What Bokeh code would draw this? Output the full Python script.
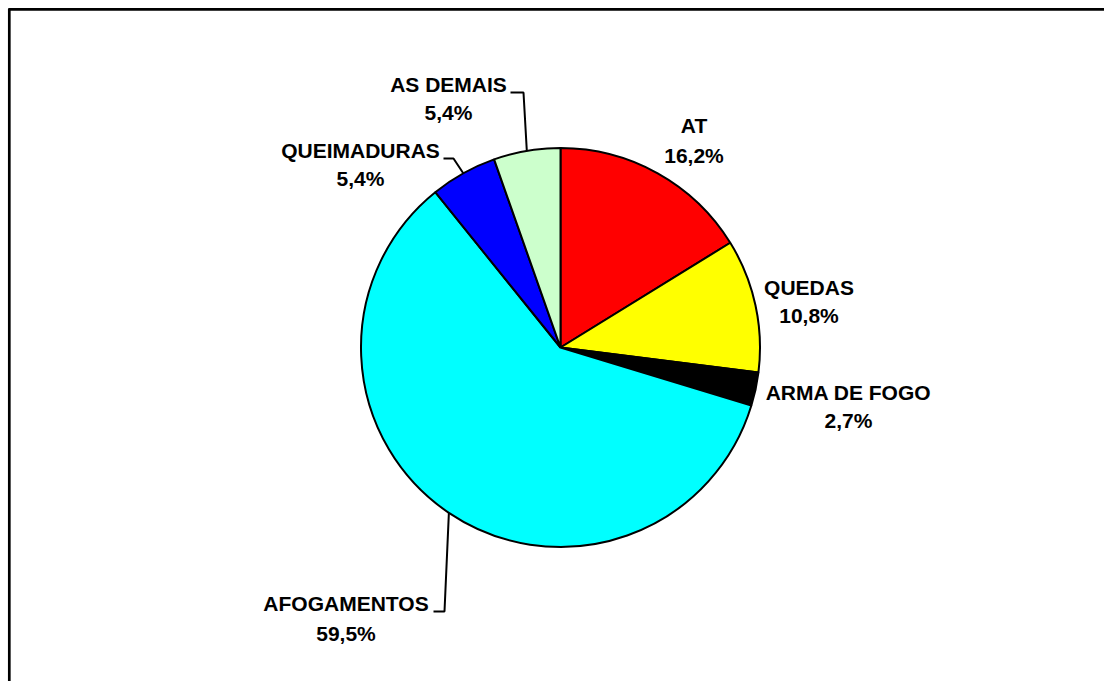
import math
from bokeh.plotting import figure
from bokeh.models import Range1d, ColumnDataSource
from bokeh.core.properties import value
from bokeh.embed import file_html
from bokeh.resources import INLINE

# ---- data ----
categories = ["AT", "QUEDAS", "ARMA DE FOGO", "AFOGAMENTOS", "QUEIMADURAS", "AS DEMAIS"]
percentages = [16.2, 10.8, 2.7, 59.5, 5.4, 5.4]
pct_labels = ["16,2%", "10,8%", "2,7%", "59,5%", "5,4%", "5,4%"]
colors = ["#FF0000", "#FFFF00", "#000000", "#00FFFF", "#0000FF", "#CCFFCC"]

# ---- layout (screen pixels of the page) ----
W, H = 1104, 681
OFF = 0  # bokeh's page template has no body margin
def X(px):
    return px - OFF
def Y(py):
    return H - (py - OFF)

CX, CY, R = 560, 347, 199.5
FONT = value("Liberation Sans")
FS = "21px"

# label anchors: (center x, baseline of name, baseline of percent)
label_pos = {
    "AT": (693.5, 125, 155),
    "QUEDAS": (808.5, 287, 315),
    "ARMA DE FOGO": (848, 392, 420),
    "AFOGAMENTOS": (345.5, 603, 633),
    "QUEIMADURAS": (360, 150, 178),
    "AS DEMAIS": (448, 84, 112),
}
# leader lines: elbow and end points
leaders = {
    "AS DEMAIS": [(523, 92), (510, 92)],
    "QUEIMADURAS": [(453, 158), (443, 158)],
    "AFOGAMENTOS": [(444, 611), (433, 611)],
}

p = figure(width=W, height=H, output_backend="svg", toolbar_location=None,
           x_range=Range1d(0, W), y_range=Range1d(0, H),
           x_axis_type=None, y_axis_type=None, min_border=0)
p.grid.visible = False
p.outline_line_color = None
p.background_fill_color = "white"
p.border_fill_color = "white"

# pie wedges
total = sum(percentages)
starts, ends, mids = [], [], []
acc = 0.0
for v in percentages:
    a = acc / total
    b = (acc + v) / total
    starts.append(math.pi / 2 - 2 * math.pi * b)
    ends.append(math.pi / 2 - 2 * math.pi * a)
    mids.append((a + b) / 2)
    acc += v

src = ColumnDataSource(dict(cat=categories, start=starts, end=ends, color=colors))
p.wedge(x=X(CX), y=Y(CY), radius=R, start_angle="start", end_angle="end",
        direction="anticlock", fill_color="color", line_color="black",
        line_width=2, source=src)

# leader lines
for i, cat in enumerate(categories):
    if cat in leaders:
        t = 2 * math.pi * mids[i]
        ex = CX + R * math.sin(t)
        ey = CY - R * math.cos(t)
        pts = [(ex, ey)] + leaders[cat]
        p.line([X(q[0]) for q in pts], [Y(q[1]) for q in pts],
               line_color="black", line_width=2)

# labels
nx, ny, py_, texts, pcts = [], [], [], [], []
for i, cat in enumerate(categories):
    cx, b1, b2 = label_pos[cat]
    nx.append(X(cx)); ny.append(Y(b1)); py_.append(Y(b2))
    texts.append(cat); pcts.append(pct_labels[i])

p.text(x=nx, y=ny, text=texts, text_font=FONT, text_font_size=FS,
       text_font_style="bold", text_align="center", text_baseline="alphabetic",
       text_color="black")
p.text(x=nx, y=py_, text=pcts, text_font=FONT, text_font_size=FS,
       text_font_style="bold", text_align="center", text_baseline="alphabetic",
       text_color="black")

# chart area border (top and left visible in the window)
p.line([8, 1104], [Y(8.8), Y(8.8)], line_color="black", line_width=2.7)
p.line([8.8, 8.8], [Y(8), 0], line_color="black", line_width=2.7)

open("out.html", "w").write(file_html(p, INLINE))
